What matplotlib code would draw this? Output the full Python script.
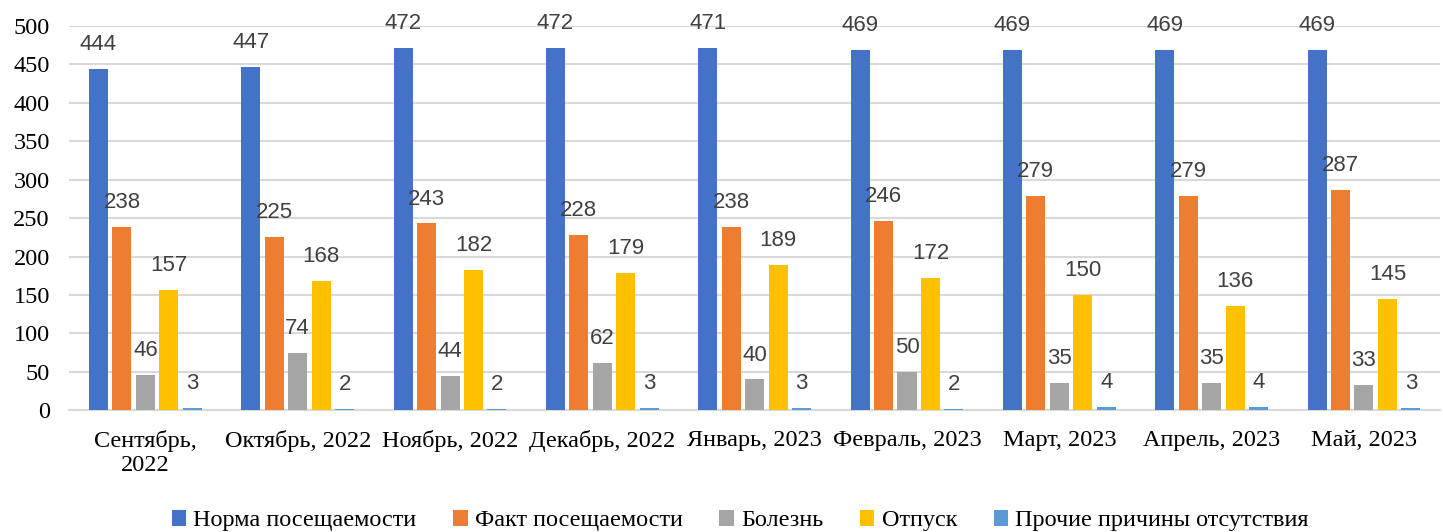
import numpy as np
import matplotlib
matplotlib.use('Agg')
import matplotlib.pyplot as plt

# Данные
months = ['Сентябрь,\n2022', 'Октябрь, 2022', 'Ноябрь, 2022', 'Декабрь, 2022',
          'Январь, 2023', 'Февраль, 2023', 'Март, 2023', 'Апрель, 2023', 'Май, 2023']
series_names = ['Норма посещаемости', 'Факт посещаемости', 'Болезнь', 'Отпуск',
                'Прочие причины отсутствия']
norma = [444, 447, 472, 472, 471, 469, 469, 469, 469]
fakt = [238, 225, 243, 228, 238, 246, 279, 279, 287]
bolezn = [46, 74, 44, 62, 40, 50, 35, 35, 33]
otpusk = [157, 168, 182, 179, 189, 172, 150, 136, 145]
prochie = [3, 2, 2, 3, 3, 2, 4, 4, 3]
colors = ['#4472C4', '#ED7D31', '#A5A5A5', '#FFC000', '#5B9BD5']

plt.rcParams['font.family'] = ['Liberation Serif', 'DejaVu Serif']
sans = ['Liberation Sans', 'DejaVu Sans']

fig = plt.figure(figsize=(14.43, 5.32), dpi=100)
ax = fig.add_axes([0.048, 0.229, 0.950, 0.722])

x = np.arange(len(months))
pitch = 0.154
width = 0.125
all_series = [norma, fakt, bolezn, otpusk, prochie]
for i, (vals, name, col) in enumerate(zip(all_series, series_names, colors)):
    pos = x + (i - 2) * pitch
    ax.bar(pos, vals, width, color=col, label=name, zorder=3)
    for xp, v in zip(pos, vals):
        ax.annotate(str(v), (xp, v), xytext=(0, 10), textcoords='offset points',
                    ha='center', va='bottom', fontsize=16, color='#404040',
                    family=sans, zorder=4)

ax.set_xlim(-0.5, len(months) - 0.5)
ax.set_ylim(0, 500)
ax.set_yticks(range(0, 501, 50))
ax.set_xticks(x)
ax.set_xticklabels(months)
ax.tick_params(axis='both', length=0, labelsize=17.5)
ax.tick_params(axis='x', pad=14)
ax.tick_params(axis='y', pad=14)
ax.grid(axis='y', color='#D9D9D9', linewidth=1.5, zorder=0)
for s in ['top', 'right', 'left']:
    ax.spines[s].set_visible(False)
ax.spines['bottom'].set_color('#D9D9D9')
ax.spines['bottom'].set_linewidth(1.5)

fig.legend(loc='lower center', bbox_to_anchor=(0.513, -0.04), ncol=5, frameon=False,
           fontsize=17.5, handlelength=0.6, handleheight=0.6,
           handletextpad=0.3, columnspacing=1.5)

fig.savefig('out.png', dpi=100)
